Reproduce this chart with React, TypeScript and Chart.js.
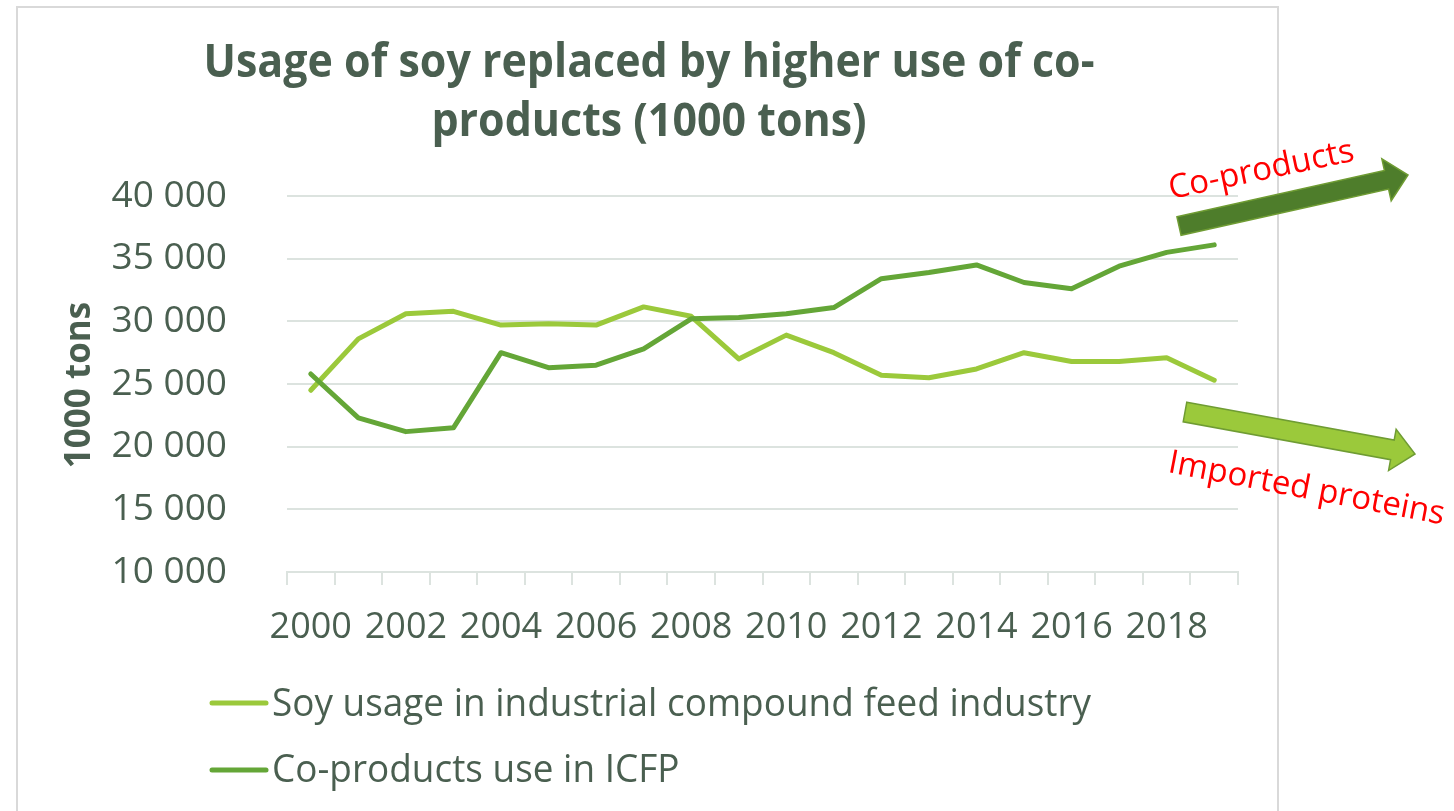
import React, { useEffect, useRef } from "react";
import { Chart, registerables } from "chart.js";

Chart.register(...registerables);

// ---------- data ----------
const years = [
  "2000", "2001", "2002", "2003", "2004", "2005", "2006", "2007", "2008", "2009",
  "2010", "2011", "2012", "2013", "2014", "2015", "2016", "2017", "2018", "2019",
];
const soyUsage = [
  24500, 28600, 30600, 30800, 29700, 29800, 29700, 31150, 30400, 27000,
  28900, 27500, 25700, 25500, 26200, 27500, 26800, 26800, 27100, 25300,
];
const coProducts = [
  25800, 22300, 21200, 21500, 27500, 26300, 26500, 27800, 30200, 30300,
  30600, 31100, 33400, 33900, 34500, 33100, 32600, 34400, 35500, 36100,
];
const yTickLabels = ["10 000", "15 000", "20 000", "25 000", "30 000", "35 000", "40 000"];
const titleLines = ["Usage of soy replaced by higher use of co-", "products (1000 tons)"];
const yAxisTitle = "1000 tons";
const seriesNames = ["Soy usage in industrial compound feed industry", "Co-products use in ICFP"];
const annotationTexts = ["Co-products", "Imported proteins"];

// ---------- styles ----------
const TEXT = "#4A5F50";
const GRID = "#DCE3DF";
const LIGHT = "#9BC93B";
const DARK = "#64A637";
const ARROW_DARK = "#4E7D2B";
const ARROW_EDGE = "#6F9C33";
const FONT = "'Open Sans', sans-serif";

function drawArrow(
  ctx: CanvasRenderingContext2D,
  x0: number, y0: number, x1: number, y1: number,
  w: number, hw: number, hl: number, fill: string
) {
  const dx = x1 - x0, dy = y1 - y0;
  const len = Math.hypot(dx, dy);
  ctx.save();
  ctx.translate(x0, y0);
  ctx.rotate(Math.atan2(dy, dx));
  ctx.beginPath();
  ctx.moveTo(0, -w / 2);
  ctx.lineTo(len - hl, -w / 2);
  ctx.lineTo(len - hl, -hw / 2);
  ctx.lineTo(len, 0);
  ctx.lineTo(len - hl, hw / 2);
  ctx.lineTo(len - hl, w / 2);
  ctx.lineTo(0, w / 2);
  ctx.closePath();
  ctx.fillStyle = fill;
  ctx.fill();
  ctx.strokeStyle = ARROW_EDGE;
  ctx.lineWidth = 1.5;
  ctx.stroke();
  ctx.restore();
}

const decorPlugin = {
  id: "decor",
  beforeDraw(chart: any) {
    const ctx = chart.ctx as CanvasRenderingContext2D;
    ctx.save();
    ctx.fillStyle = "#ffffff";
    ctx.fillRect(0, 0, chart.width, chart.height);
    ctx.strokeStyle = "#D9D9D9";
    ctx.lineWidth = 2;
    ctx.strokeRect(17, 7, 1261, 900);
    ctx.restore();
  },
  afterDraw(chart: any) {
    const ctx = chart.ctx as CanvasRenderingContext2D;

    // title
    ctx.save();
    ctx.font = `bold 46px ${FONT}`;
    ctx.fillStyle = TEXT;
    ctx.textAlign = "center";
    ctx.textBaseline = "alphabetic";
    const sxT = 891 / ctx.measureText(titleLines[0]).width;
    const baselines = [77, 136];
    titleLines.forEach((line, i) => {
      ctx.save();
      ctx.translate(649, baselines[i]);
      ctx.scale(sxT, 1);
      ctx.fillText(line, 0, 0);
      ctx.restore();
    });
    ctx.restore();

    // y axis title
    ctx.save();
    ctx.font = `bold 35px ${FONT}`;
    ctx.fillStyle = TEXT;
    ctx.textAlign = "center";
    ctx.textBaseline = "alphabetic";
    ctx.translate(90, 385);
    ctx.rotate(-Math.PI / 2);
    ctx.fillText(yAxisTitle, 0, 0);
    ctx.restore();

    // legend
    ctx.save();
    ctx.font = `39px ${FONT}`;
    const sxL = 819 / ctx.measureText(seriesNames[0]).width;
    const colors = [LIGHT, DARK];
    const lineY = [703, 770];
    const textY = [716, 782];
    seriesNames.forEach((name, i) => {
      ctx.strokeStyle = colors[i];
      ctx.lineWidth = 5;
      ctx.lineCap = "round";
      ctx.beginPath();
      ctx.moveTo(212, lineY[i]);
      ctx.lineTo(266, lineY[i]);
      ctx.stroke();
      ctx.save();
      ctx.fillStyle = TEXT;
      ctx.textAlign = "left";
      ctx.textBaseline = "alphabetic";
      ctx.translate(272, textY[i]);
      ctx.scale(sxL, 1);
      ctx.fillText(name, 0, 0);
      ctx.restore();
    });
    ctx.restore();

    // arrows
    drawArrow(ctx, 1179, 226, 1408, 175, 19, 43, 22, ARROW_DARK);
    drawArrow(ctx, 1185, 412, 1415, 454, 20, 42, 23, LIGHT);

    // annotation texts
    ctx.save();
    ctx.font = `33px ${FONT}`;
    ctx.fillStyle = "#FF0000";
    ctx.textAlign = "left";
    ctx.textBaseline = "alphabetic";
    ctx.save();
    ctx.translate(1171, 199);
    ctx.rotate((-11.8 * Math.PI) / 180);
    ctx.fillText(annotationTexts[0], 0, 0);
    ctx.restore();
    ctx.save();
    ctx.translate(1167, 472);
    ctx.rotate((10.8 * Math.PI) / 180);
    ctx.fillText(annotationTexts[1], 0, 0);
    ctx.restore();
    ctx.restore();
  },
};

export default function App() {
  const ref = useRef<HTMLCanvasElement>(null);

  useEffect(() => {
    if (!ref.current) return;
    const chart = new Chart(ref.current, {
      type: "line",
      data: {
        labels: years,
        datasets: [
          {
            label: seriesNames[0],
            data: soyUsage,
            borderColor: LIGHT,
            backgroundColor: LIGHT,
            borderWidth: 5,
            pointRadius: 0,
            tension: 0,
            borderCapStyle: "round",
            borderJoinStyle: "round",
            order: 1,
          },
          {
            label: seriesNames[1],
            data: coProducts,
            borderColor: DARK,
            backgroundColor: DARK,
            borderWidth: 5,
            pointRadius: 0,
            tension: 0,
            borderCapStyle: "round",
            borderJoinStyle: "round",
            order: 0,
          },
        ],
      },
      options: {
        animation: false,
        responsive: false,
        maintainAspectRatio: false,
        layout: { padding: { left: 0, top: 196, right: 216, bottom: 0 } },
        plugins: {
          legend: { display: false },
          title: { display: false },
          tooltip: { enabled: false },
        },
        scales: {
          x: {
            type: "category",
            offset: true,
            grid: {
              offset: true,
              drawOnChartArea: false,
              drawTicks: true,
              tickLength: 13,
              color: GRID,
              lineWidth: 2,
            },
            border: { display: true, color: GRID, width: 2 },
            ticks: {
              autoSkip: false,
              maxRotation: 0,
              minRotation: 0,
              padding: 21,
              color: TEXT,
              font: { family: FONT, size: 36 },
              callback: (_v: any, i: number) => (i % 2 === 0 ? years[i] : ""),
            },
            afterFit: (s: any) => {
              s.height = 811 - 572;
            },
          },
          y: {
            type: "linear",
            min: 10000,
            max: 40000,
            grid: { color: GRID, lineWidth: 2, drawTicks: false },
            border: { display: false },
            ticks: {
              stepSize: 5000,
              padding: 60,
              color: TEXT,
              font: { family: FONT, size: 37 },
              callback: (_v: any, i: number) => yTickLabels[i],
            },
            afterFit: (s: any) => {
              s.width = 287;
            },
          },
        },
      },
      plugins: [decorPlugin],
    });
    return () => chart.destroy();
  }, []);

  return (
    <div style={{ position: "fixed", left: 0, top: 0, width: 1454, height: 811, background: "#fff" }}>
      <canvas ref={ref} width={1454} height={811} style={{ display: "block", width: 1454, height: 811 }} />
    </div>
  );
}
